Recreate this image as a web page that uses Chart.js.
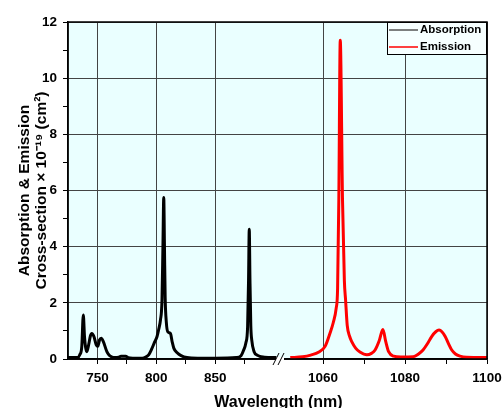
<!DOCTYPE html>
<html>
<head>
<meta charset="utf-8">
<script src="https://cdn.jsdelivr.net/npm/chart.js@4.4.1/dist/chart.umd.min.js"></script>
<style>
  html, body { margin: 0; padding: 0; background: #fff; }
  #wrap { width: 502px; height: 408px; }
</style>
</head>
<body>
<div id="wrap"><canvas id="chart"></canvas></div>
<script>
// absorption (black), left part of the broken axis
const absWl = [725, 733, 735, 736.7, 738, 739, 740, 741, 742.5, 744, 745.2, 747, 749, 750.3, 751.8, 753.2, 755, 758, 760, 762.3,
  765, 768, 770, 774, 776, 780, 788, 791, 793.5, 796, 798.5, 800.6, 802, 803.5, 804.8, 805.6, 806.3, 806.9, 807.5, 808.5,
  809.7, 812, 813.5, 814.9, 817.7, 821, 826, 835, 850, 868, 872, 874, 876, 877.5, 878.3, 878.9, 879.5, 880.2, 881, 883,
  886, 889, 895, 902];
const absVal = [0.05, 0.05, 0.15, 0.44, 1.57, 0.8, 0.4, 0.26, 0.5, 0.82, 0.91, 0.8, 0.5, 0.45, 0.68, 0.74, 0.62, 0.26, 0.13, 0.07,
  0.05, 0.06, 0.1, 0.1, 0.05, 0.03, 0.03, 0.07, 0.15, 0.35, 0.6, 0.8, 1.05, 1.39, 2.1, 4.0, 5.75, 4.0, 2.2, 1.3,
  0.97, 0.91, 0.6, 0.38, 0.22, 0.12, 0.05, 0.03, 0.03, 0.05, 0.12, 0.3, 0.57, 1.15, 2.8, 4.62, 2.8, 1.2, 0.68, 0.26,
  0.13, 0.08, 0.05, 0.05];

// emission (red), right part
const emWl = [1052, 1055, 1057, 1059, 1060.5, 1061.7, 1062.5, 1063.2, 1063.55, 1063.85, 1064.2, 1064.75, 1065.2, 1065.5, 1065.9,
  1066.5, 1067, 1068, 1069, 1070.7, 1071.8, 1072.7, 1073.7, 1074.6, 1075.3, 1076, 1077.2, 1079, 1082, 1083.3, 1084.4,
  1085.5, 1086.5, 1087.5, 1088.3, 1089, 1089.8, 1090.6, 1091.4, 1092.3, 1093.4, 1095, 1100];
const emVal = [0.05, 0.08, 0.14, 0.25, 0.45, 0.92, 1.3, 1.8, 2.5, 5.66, 11.35, 5.66, 2.8, 2.1, 1.2,
  0.8, 0.62, 0.38, 0.25, 0.15, 0.2, 0.32, 0.65, 1.05, 0.62, 0.26, 0.1, 0.07, 0.08, 0.18, 0.32,
  0.55, 0.8, 0.97, 1.03, 0.97, 0.8, 0.55, 0.32, 0.18, 0.1, 0.06, 0.05];

const leftTicks = [750, 775, 800, 825, 850, 875];
const leftLabels = [750, 800, 850];
const rightTicks = [1060, 1070, 1080, 1090, 1100];
const rightLabels = [1060, 1080, 1100];
const yTicks = [0, 1, 2, 3, 4, 5, 6, 7, 8, 9, 10, 11, 12];
const yLabels = [0, 2, 4, 6, 8, 10, 12];

const FONT = "'Liberation Sans', Arial, sans-serif";
const GRID = "#444";

const toPoints = (xs, ys) => xs.map((x, i) => ({ x: x, y: ys[i] }));

// background + frame + break marks + legend + x title
const decor = {
  id: "decor",
  beforeDraw(chart) {
    const { ctx, chartArea: a } = chart;
    ctx.save();
    ctx.fillStyle = "#eaffff";
    ctx.fillRect(a.left, a.top, a.right - a.left, a.bottom - a.top);
    ctx.restore();
  },
  afterDraw(chart) {
    const { ctx, chartArea: a } = chart;
    ctx.save();
    ctx.strokeStyle = "#000";
    ctx.lineWidth = 1.5;
    ctx.strokeRect(a.left, a.top, a.right - a.left, a.bottom - a.top);

    // axis break //
    const bx = chart.scales.x.right;
    ctx.fillStyle = "#fff";
    ctx.fillRect(bx - 4, a.bottom - 2, 8, 4);
    ctx.lineWidth = 1;
    [-4, 1].forEach(d => {
      ctx.beginPath();
      ctx.moveTo(bx + d - 3, a.bottom + 6);
      ctx.lineTo(bx + d + 3, a.bottom - 6);
      ctx.stroke();
    });

    // legend
    const lw = 100, lh = 32;
    const lx = a.right - lw, ly = a.top;
    ctx.fillStyle = "#f6ffff";
    ctx.fillRect(lx, ly, lw, lh);
    ctx.strokeStyle = "#000";
    ctx.lineWidth = 1;
    ctx.strokeRect(lx + 0.5, ly + 0.5, lw - 1, lh);
    ctx.font = "bold 11.5px " + FONT;
    ctx.textBaseline = "middle";
    const legendCols = ["#555", "#f00"];
    chart.data.datasets.forEach((ds, i) => {
      const y = ly + 8 + i * 17;
      ctx.strokeStyle = legendCols[i];
      ctx.lineWidth = 1.5;
      ctx.beginPath();
      ctx.moveTo(lx + 2, y);
      ctx.lineTo(lx + 31, y);
      ctx.stroke();
      ctx.fillStyle = "#000";
      ctx.fillText(ds.label, lx + 33, y);
    });

    // x axis title
    ctx.font = "bold 16px " + FONT;
    ctx.textAlign = "center";
    ctx.textBaseline = "alphabetic";
    ctx.fillText("Wavelength (nm)", (a.left + a.right) / 2 + 1, a.bottom + 47.5);
    ctx.restore();
  }
};

const tickFont = { family: FONT, size: 13.5, weight: "bold" };

const fitX = s => { s.height = 27; s.paddingLeft = 0; s.paddingRight = 0; };

new Chart(document.getElementById("chart"), {
  type: "line",
  data: {
    datasets: [
      {
        label: "Absorption",
        data: toPoints(absWl, absVal),
        xAxisID: "x",
        borderColor: "#000",
        borderWidth: 3,
        pointRadius: 0,
        cubicInterpolationMode: "monotone"
      },
      {
        label: "Emission",
        data: toPoints(emWl, emVal),
        xAxisID: "x2",
        borderColor: "#f00",
        borderWidth: 3,
        pointRadius: 0,
        cubicInterpolationMode: "monotone"
      }
    ]
  },
  options: {
    responsive: true,
    maintainAspectRatio: false,
    animation: false,
    layout: { padding: { left: 0, right: 15, top: 22, bottom: 22 } },
    plugins: { legend: { display: false }, tooltip: { enabled: false } },
    scales: {
      x: {
        type: "linear",
        position: "bottom",
        stack: "wl",
        stackWeight: 212,
        min: 725,
        max: 905,
        afterBuildTicks: s => { s.ticks = leftTicks.map(v => ({ value: v })); },
        afterFit: fitX,
        ticks: {
          autoSkip: false, maxRotation: 0, padding: 6, color: "#000", font: tickFont,
          callback: v => leftLabels.includes(v) ? String(v) : ""
        },
        grid: {
          color: c => c.tick && leftLabels.includes(c.tick.value) ? GRID : "rgba(0,0,0,0)",
          tickColor: "#000", tickLength: 5, lineWidth: 1
        },
        border: { color: "#000", width: 1.5 }
      },
      x2: {
        type: "linear",
        position: "bottom",
        stack: "wl",
        stackWeight: 207,
        min: 1049.5,
        max: 1100,
        afterBuildTicks: s => { s.ticks = rightTicks.map(v => ({ value: v })); },
        afterFit: fitX,
        ticks: {
          autoSkip: false, maxRotation: 0, padding: 6, color: "#000", font: tickFont,
          callback: v => rightLabels.includes(v) ? String(v) : ""
        },
        grid: {
          color: c => c.tick && rightLabels.includes(c.tick.value) ? GRID : "rgba(0,0,0,0)",
          tickColor: "#000", tickLength: 5, lineWidth: 1
        },
        border: { color: "#000", width: 1.5 }
      },
      y: {
        min: 0,
        max: 12,
        afterBuildTicks: s => { s.ticks = yTicks.map(v => ({ value: v })); },
        afterFit: s => { s.width = 68; },
        ticks: {
          autoSkip: false, padding: 6, color: "#000", font: tickFont,
          callback: v => yLabels.includes(v) ? String(v) : ""
        },
        grid: {
          color: c => c.tick && yLabels.includes(c.tick.value) ? GRID : "rgba(0,0,0,0)",
          tickColor: "#000", tickLength: 5, lineWidth: 1
        },
        border: { color: "#000", width: 1.5 },
        title: {
          display: true,
          text: ["Absorption & Emission", "Cross-section \u00d7 10\u207b\u00b9\u2079 (cm\u00b2)"],
          color: "#000",
          font: { family: FONT, size: 15.5, weight: "bold", lineHeight: 1.1 },
          padding: { top: 16.5, bottom: 0 }
        }
      }
    }
  },
  plugins: [decor]
});
</script>
</body>
</html>
